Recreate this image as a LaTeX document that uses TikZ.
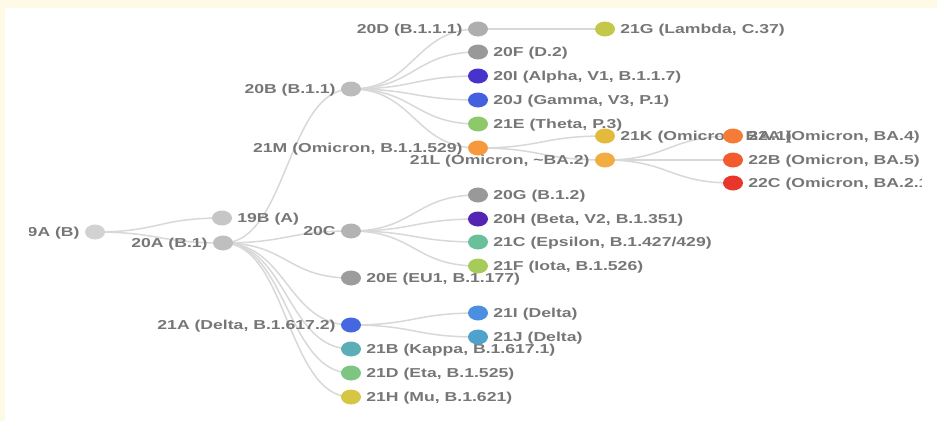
\documentclass[tikz,border=0pt]{standalone}
\usepackage{fontspec}
\newfontfamily\cladefont{Liberation Sans}[FakeStretch=1.36]
\usetikzlibrary{positioning,shapes.geometric,backgrounds,calc}
\definecolor{cream}{HTML}{FFFAE6}
\definecolor{lbltext}{HTML}{767676}
\definecolor{linkgray}{HTML}{D8D8D8}
\definecolor{k19A}{HTML}{D2D2D2}
\definecolor{k19B}{HTML}{C6C6C6}
\definecolor{k20A}{HTML}{BFBFBF}
\definecolor{k20B}{HTML}{BBBBBB}
\definecolor{k20C}{HTML}{B3B3B3}
\definecolor{k20D}{HTML}{AEAEAE}
\definecolor{k20E}{HTML}{9C9C9C}
\definecolor{k20F}{HTML}{999999}
\definecolor{k20G}{HTML}{999999}
\definecolor{k20H}{HTML}{5424B3}
\definecolor{k20I}{HTML}{4733CC}
\definecolor{k20J}{HTML}{4460DF}
\definecolor{k21A}{HTML}{4567E0}
\definecolor{k21B}{HTML}{5BAEB5}
\definecolor{k21C}{HTML}{6BC09C}
\definecolor{k21D}{HTML}{7DC580}
\definecolor{k21E}{HTML}{8DC86B}
\definecolor{k21F}{HTML}{A6CB5A}
\definecolor{k21G}{HTML}{C3C84B}
\definecolor{k21H}{HTML}{D6C643}
\definecolor{k21I}{HTML}{4A8FE0}
\definecolor{k21J}{HTML}{4EA2CC}
\definecolor{k21K}{HTML}{E4BA3D}
\definecolor{k21L}{HTML}{F1AD41}
\definecolor{k21M}{HTML}{F5993C}
\definecolor{k22A}{HTML}{F47C36}
\definecolor{k22B}{HTML}{F25B2D}
\definecolor{k22C}{HTML}{E8362A}

\begin{document}
\begin{tikzpicture}[x=1bp,y=-1bp]
\tikzstyle{dot}=[ellipse,minimum width=20bp,minimum height=15bp,inner sep=0pt]
\tikzstyle{lbl}=[inner sep=0pt,text height=9.4bp,text depth=0pt,text=lbltext,font=\cladefont\bfseries\fontsize{13}{15}\selectfont]
\tikzstyle{link}=[draw=linkgray,line width=1.5bp]
\useasboundingbox (0,0) rectangle (937,421);
\fill[cream] (0,0) rectangle (937,8);
\fill[cream] (0,0) rectangle (5,421);
\begin{scope}
\clip (29,8) rectangle (921,421);
\node[dot,fill=k19A] (c19A) at (95,232) {};
\node[lbl,left=5bp of c19A] (l19A) {19A (B)};
\node[dot,fill=k19B] (c19B) at (222,218) {};
\node[lbl,right=5bp of c19B] (l19B) {19B (A)};
\node[dot,fill=k20A] (c20A) at (223,243) {};
\node[lbl,left=5bp of c20A] (l20A) {20A (B.1)};
\node[dot,fill=k20B] (c20B) at (351,89) {};
\node[lbl,left=5bp of c20B] (l20B) {20B (B.1.1)};
\node[dot,fill=k20C] (c20C) at (351,231) {};
\node[lbl,left=5bp of c20C] (l20C) {20C};
\node[dot,fill=k20E] (c20E) at (351,278) {};
\node[lbl,right=5bp of c20E] (l20E) {20E (EU1, B.1.177)};
\node[dot,fill=k21A] (c21A) at (351,325) {};
\node[lbl,left=5bp of c21A] (l21A) {21A (Delta, B.1.617.2)};
\node[dot,fill=k21B] (c21B) at (351,349) {};
\node[lbl,right=5bp of c21B] (l21B) {21B (Kappa, B.1.617.1)};
\node[dot,fill=k21D] (c21D) at (351,373) {};
\node[lbl,right=5bp of c21D] (l21D) {21D (Eta, B.1.525)};
\node[dot,fill=k21H] (c21H) at (351,397) {};
\node[lbl,right=5bp of c21H] (l21H) {21H (Mu, B.1.621)};
\node[dot,fill=k20D] (c20D) at (478,29) {};
\node[lbl,left=5bp of c20D] (l20D) {20D (B.1.1.1)};
\node[dot,fill=k20F] (c20F) at (478,52) {};
\node[lbl,right=5bp of c20F] (l20F) {20F (D.2)};
\node[dot,fill=k20I] (c20I) at (478,76) {};
\node[lbl,right=5bp of c20I] (l20I) {20I (Alpha, V1, B.1.1.7)};
\node[dot,fill=k20J] (c20J) at (478,100) {};
\node[lbl,right=5bp of c20J] (l20J) {20J (Gamma, V3, P.1)};
\node[dot,fill=k21E] (c21E) at (478,124) {};
\node[lbl,right=5bp of c21E] (l21E) {21E (Theta, P.3)};
\node[dot,fill=k21M] (c21M) at (478,148) {};
\node[lbl,left=5bp of c21M] (l21M) {21M (Omicron, B.1.1.529)};
\node[dot,fill=k20G] (c20G) at (478,195) {};
\node[lbl,right=5bp of c20G] (l20G) {20G (B.1.2)};
\node[dot,fill=k20H] (c20H) at (478,219) {};
\node[lbl,right=5bp of c20H] (l20H) {20H (Beta, V2, B.1.351)};
\node[dot,fill=k21C] (c21C) at (478,242) {};
\node[lbl,right=5bp of c21C] (l21C) {21C (Epsilon, B.1.427/429)};
\node[dot,fill=k21F] (c21F) at (478,266) {};
\node[lbl,right=5bp of c21F] (l21F) {21F (Iota, B.1.526)};
\node[dot,fill=k21I] (c21I) at (478,313) {};
\node[lbl,right=5bp of c21I] (l21I) {21I (Delta)};
\node[dot,fill=k21J] (c21J) at (478,337) {};
\node[lbl,right=5bp of c21J] (l21J) {21J (Delta)};
\node[dot,fill=k21G] (c21G) at (605,29) {};
\node[lbl,right=5bp of c21G] (l21G) {21G (Lambda, C.37)};
\node[dot,fill=k21K] (c21K) at (605,136) {};
\node[lbl,right=5bp of c21K] (l21K) {21K (Omicron, BA.1)};
\node[dot,fill=k21L] (c21L) at (605,160) {};
\node[lbl,left=5bp of c21L] (l21L) {21L (Omicron, \textasciitilde BA.2)};
\node[dot,fill=k22A] (c22A) at (733,136) {};
\node[lbl,right=5bp of c22A] (l22A) {22A (Omicron, BA.4)};
\node[dot,fill=k22B] (c22B) at (733,160) {};
\node[lbl,right=5bp of c22B] (l22B) {22B (Omicron, BA.5)};
\node[dot,fill=k22C] (c22C) at (733,183) {};
\node[lbl,right=5bp of c22C] (l22C) {22C (Omicron, BA.2.12.1)};
\end{scope}
\begin{scope}[on background layer]
\foreach \a/\b in {c19A/c19B,c19A/c20A,c20A/c20B,c20A/c20C,c20A/c20E,c20A/c21A,c20A/c21B,c20A/c21D,c20A/c21H,
  c20B/c20D,c20B/c20F,c20B/c20I,c20B/c20J,c20B/c21E,c20B/c21M,c20D/c21G,c21M/c21K,c21M/c21L,
  c21L/c22A,c21L/c22B,c21L/c22C,c20C/c20G,c20C/c20H,c20C/c21C,c20C/c21F,c21A/c21I,c21A/c21J}
  \draw[link] let \p1=(\a.center), \p2=(\b.center) in (\p1) .. controls ({(\x1+\x2)/2},\y1) and ({(\x1+\x2)/2},\y2) .. (\p2);
\end{scope}
\end{tikzpicture}
\end{document}
